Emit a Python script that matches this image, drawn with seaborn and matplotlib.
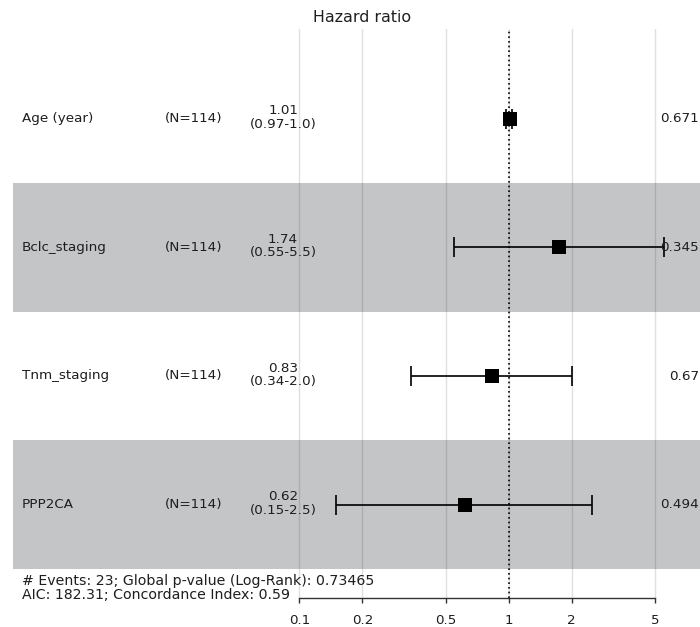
import numpy as np
import pandas as pd
import matplotlib
matplotlib.use("Agg")
import matplotlib.pyplot as plt
import matplotlib.transforms as mtransforms
from matplotlib.ticker import NullLocator, FixedLocator, FixedFormatter
import seaborn as sns

# ---------------- data ----------------
variables = ["Age (year)", "Bclc_staging", "Tnm_staging", "PPP2CA"]
n_labels = ["(N=114)", "(N=114)", "(N=114)", "(N=114)"]
hr = [1.01, 1.74, 0.83, 0.62]
ci_low = [0.97, 0.55, 0.34, 0.15]
ci_high = [1.04, 5.5, 2.0, 2.5]
hr_text = ["1.01", "1.74", "0.83", "0.62"]
ci_text = ["(0.97-1.0)", "(0.55-5.5)", "(0.34-2.0)", "(0.15-2.5)"]
p_text = ["0.671", "0.345", "0.67", "0.494"]
x_ticks = [0.1, 0.2, 0.5, 1, 2, 5]
x_tick_labels = ["0.1", "0.2", "0.5", "1", "2", "5"]
footer = ["# Events: 23; Global p-value (Log-Rank): 0.73465",
          "AIC: 182.31; Concordance Index: 0.59"]
title = "Hazard ratio"

row_pos = list(range(len(variables), 0, -1))  # 4,3,2,1 top to bottom
df = pd.DataFrame({"var": variables, "hr": hr, "lo": ci_low, "hi": ci_high, "row": row_pos})

# ---------------- layout ----------------
sns.set_style("white")
plt.rcParams["font.family"] = ["DejaVu Sans"]
TXT = "#1e1e1e"

W, H = 700, 627
fig = plt.figure(figsize=(W / 100, H / 100), dpi=100)
ax_left, ax_right, ax_top, ax_bottom = 13, 700, 29, 598
ax = fig.add_axes([ax_left / W, (H - ax_bottom) / H, (ax_right - ax_left) / W, (ax_bottom - ax_top) / H])

# log axis: 1 decade = 209.4 px, x=1 at 508.7 px
dec_px, one_px = 209.4, 508.7
xlim = (10 ** ((ax_left - one_px) / dec_px), 10 ** ((ax_right - one_px) / dec_px))
row_px = 128.7
ylim = (1 - (ax_bottom - 504.7) / row_px, 1 + (504.7 - ax_top) / row_px)

ax.set_xscale("log")

# alternating bands
for i, r in enumerate(df["row"]):
    if i % 2 == 1:
        ax.axhspan(r - 0.5, r + 0.5, color="#04060b", alpha=0.23, lw=0, zorder=1)

# vertical grid
for t in x_ticks:
    ax.axvline(t, color="#E0E0E0", lw=1.0, zorder=0.5)
# reference line at HR = 1
ax.axvline(1, color="black", lw=1.2, ls=(0, (1, 1.8)), zorder=2)

# error bars
ax.errorbar(df["hr"], df["row"],
            xerr=[df["hr"] - df["lo"], df["hi"] - df["hr"]],
            fmt="none", ecolor="black", elinewidth=1.2,
            capsize=7.2, capthick=1.2, zorder=3)

# points
sns.scatterplot(data=df, x="hr", y="row", marker="s", s=112, color="black",
                edgecolor="black", linewidth=0, zorder=4, ax=ax, legend=False)

ax.set_xlim(*xlim)
ax.set_ylim(*ylim)
ax.set_xlabel("")
ax.set_ylabel("")

# axes styling
for s in ["top", "left", "right"]:
    ax.spines[s].set_visible(False)
ax.spines["bottom"].set_bounds(x_ticks[0], x_ticks[-1])
ax.spines["bottom"].set_color("#333333")
ax.spines["bottom"].set_linewidth(1.0)
ax.xaxis.set_major_locator(FixedLocator(x_ticks))
ax.xaxis.set_major_formatter(FixedFormatter(x_tick_labels))
ax.xaxis.set_minor_locator(NullLocator())
ax.set_yticks([])
ax.tick_params(axis="x", length=3.6, width=1.0, color="#333333", pad=8,
               labelsize=9.6, labelcolor=TXT, bottom=True)
ax.patch.set_alpha(0)

# row texts
tr = mtransforms.blended_transform_factory(fig.transFigure, ax.transData)
fs = 9.7
for i, r in enumerate(df["row"]):
    ax.text(22 / W, r, variables[i], transform=tr, ha="left", va="center",
            fontsize=fs, color=TXT)
    ax.text(165 / W, r, n_labels[i], transform=tr, ha="left", va="center",
            fontsize=fs, color=TXT)
    ax.text(283 / W, r + 8 / row_px, hr_text[i], transform=tr, ha="center",
            va="center", fontsize=fs, color=TXT)
    ax.text(283 / W, r - 5.5 / row_px, ci_text[i], transform=tr, ha="center",
            va="center", fontsize=fs, color=TXT)
    ax.text(699 / W, r, p_text[i], transform=tr, ha="right", va="center",
            fontsize=fs, color=TXT)

# title & footer
fig.text(362 / W, 1 - 18 / H, title, ha="center", va="center", fontsize=11.4, color=TXT)
fig.text(22 / W, 1 - 581.5 / H, footer[0], ha="left", va="center", fontsize=10.2, color=TXT)
fig.text(22 / W, 1 - 595 / H, footer[1], ha="left", va="center", fontsize=10.2, color=TXT)

fig.savefig("out.png", dpi=100)
